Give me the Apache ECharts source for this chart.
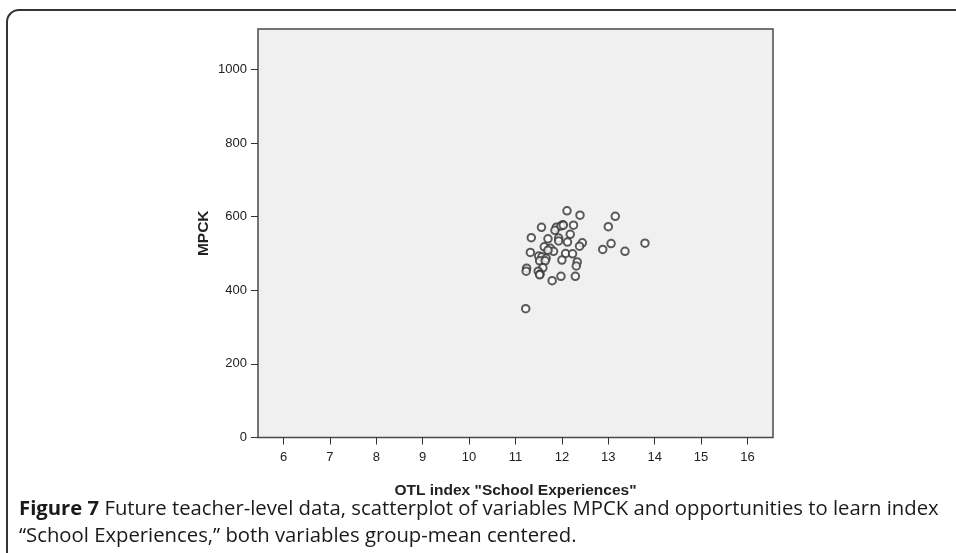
<!DOCTYPE html>
<html>
<head>
<meta charset="utf-8">
<script src="https://cdn.jsdelivr.net/npm/echarts@6/dist/echarts.min.js"></script>
<style>html,body{margin:0;padding:0;background:#fff;}#c{width:956px;height:553px;}</style>
</head>
<body>
<div id="c"></div>
<script>
const xTicks = [6, 7, 8, 9, 10, 11, 12, 13, 14, 15, 16];
const yTicks = [0, 200, 400, 600, 800, 1000];
const otlValues = [12.11, 12.39, 13.15, 11.56, 12.02, 11.88, 11.85, 11.98, 12.03, 12.25, 13.0, 11.34, 11.70, 11.93, 12.18, 11.93, 12.12, 12.44, 12.38, 13.06, 13.79, 12.88, 13.36, 11.32, 11.62, 11.75, 11.82, 11.70, 12.08, 12.23, 11.50, 11.57, 11.66, 11.52, 11.64, 12.0, 12.33, 12.31, 11.59, 11.24, 11.23, 11.49, 11.53, 11.52, 11.79, 11.98, 12.29, 11.22];
const mpckValues = [616, 604, 601, 571, 578, 571, 563, 575, 577, 577, 573, 543, 540, 542, 552, 534, 531, 529, 520, 527, 528, 511, 506, 503, 518, 514, 506, 509, 500, 499, 493, 491, 487, 480, 480, 482, 477, 466, 461, 460, 452, 452, 444, 442, 426, 438, 438, 350];

const points = otlValues.map((x, i) => [x, mpckValues[i]]);
const chart = echarts.init(document.getElementById('c'), null, {renderer: 'canvas'});
const tickFont = {fontFamily: 'Liberation Sans', fontSize: 13, color: '#222'};
chart.setOption({
  animation: false,
  backgroundColor: '#ffffff',
  grid: {left: 258, right: 183, top: 29, bottom: 115.5, show: true, backgroundColor: '#f0f0f0', borderColor: '#4a4a4a', borderWidth: 1.5},
  xAxis: {
    type: 'value', min: 5.45, max: 16.55,
    name: 'OTL index "School Experiences"', nameLocation: 'middle', nameGap: 45, nameMoveOverlap: false,
    nameTextStyle: {fontFamily: 'Liberation Sans', fontSize: 15.5, fontWeight: 'bold', color: '#222'},
    axisLine: {show: false},
    axisTick: {show: true, inside: false, length: 7, lineStyle: {color: '#333', width: 1}, customValues: xTicks},
    axisLabel: {show: true, margin: 13, ...tickFont, customValues: xTicks, formatter: v => String(v)},
    splitLine: {show: false}
  },
  yAxis: {
    type: 'value', min: 0, max: 1110,
    name: 'MPCK', nameLocation: 'middle', nameGap: 46, nameRotate: 90, nameMoveOverlap: false,
    nameTextStyle: {fontFamily: 'Liberation Sans', fontSize: 15.5, fontWeight: 'bold', color: '#222'},
    axisLine: {show: false},
    axisTick: {show: true, inside: false, length: 7, lineStyle: {color: '#333', width: 1}, customValues: yTicks},
    axisLabel: {show: true, margin: 11, ...tickFont, customValues: yTicks, formatter: v => String(v)},
    splitLine: {show: false}
  },
  series: [{
    type: 'scatter',
    data: points,
    symbol: 'emptyCircle',
    symbolSize: 7.5,
    itemStyle: {color: '#333', borderColor: '#333', borderWidth: 1}
  }],
  graphic: [
    {type: 'rect', shape: {x: 7, y: 10, width: 1100, height: 700, r: [12, 0, 0, 0]}, style: {fill: null, stroke: '#333', lineWidth: 2}, silent: true},
    {type: 'text', left: 19, top: 496, style: {
      text: '{b|Figure 7} Future teacher-level data, scatterplot of variables MPCK and opportunities to learn index\n\u201cSchool Experiences,\u201d both variables group-mean centered.',
      fontFamily: 'Open Sans', fontSize: 20.3, fill: '#1a1a1a', lineHeight: 27,
      rich: {b: {fontFamily: 'Open Sans', fontSize: 20.3, fontWeight: 'bold', fill: '#1a1a1a'}}
    }}
  ]
});
</script>
</body>
</html>
